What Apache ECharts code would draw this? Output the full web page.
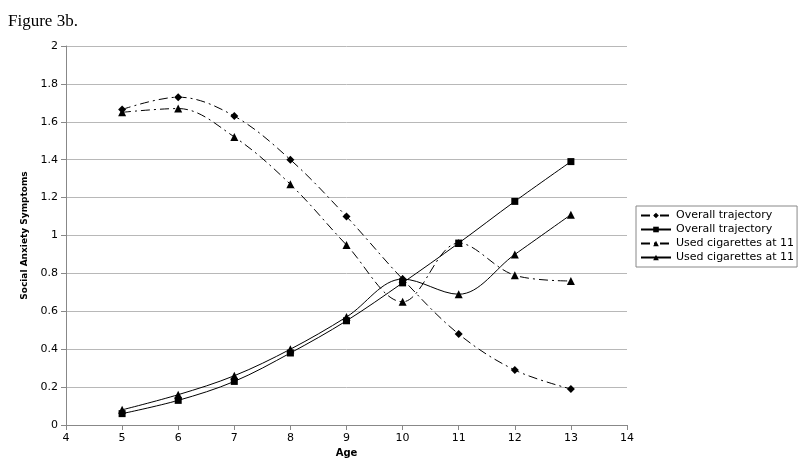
<!DOCTYPE html>
<html lang="en">
<head>
    <meta charset="UTF-8">
    <title>Figure 3b.</title>
    <script src="https://cdn.jsdelivr.net/npm/echarts@6/dist/echarts.min.js"></script>
    <style>
        html, body { margin: 0; padding: 0; background: #fff; }
        #main { width: 800px; height: 467px; }
    </style>
</head>
<body>
<div id="main"></div>
<script type="text/javascript">
    // 数据
    var ages = [5, 6, 7, 8, 9, 10, 11, 12, 13];
    var overallDash = [1.665, 1.73, 1.63, 1.40, 1.10, 0.77, 0.48, 0.29, 0.19];
    var overallSolid = [0.06, 0.13, 0.23, 0.38, 0.55, 0.75, 0.96, 1.18, 1.39];
    var cigDash = [1.65, 1.67, 1.52, 1.27, 0.95, 0.65, 0.96, 0.79, 0.76];
    var cigSolid = [0.08, 0.16, 0.26, 0.40, 0.57, 0.77, 0.69, 0.90, 1.11];
    var names = ['Overall trajectory', 'Overall trajectory ', 'Used cigarettes at 11', 'Used cigarettes at 11 '];

    function pairs(vals) {
        return ages.map(function (a, i) { return [a, vals[i]]; });
    }

    var dashDot = [9, 4, 2, 4];

    function mkSeries(name, vals, symbol, size, dashed) {
        return {
            name: name,
            type: 'line',
            smooth: 0.35,
            data: pairs(vals),
            symbol: symbol,
            symbolSize: size,
            itemStyle: { color: '#000' },
            lineStyle: { color: '#000', width: 1, type: dashed ? dashDot : 'solid' }
        };
    }

    var myChart = echarts.init(document.getElementById('main'));
    var option = {
        animation: false,
        backgroundColor: '#fff',
        title: {
            text: 'Figure 3b.',
            left: 3, top: 8,
            textStyle: { fontFamily: 'Liberation Serif', fontWeight: 'normal', fontSize: 17, color: '#000' }
        },
        grid: { left: 66, right: 173, top: 46, bottom: 42 },
        legend: {
            orient: 'vertical',
            left: 636, top: 206,
            data: names,
            itemWidth: 30, itemHeight: 7, itemGap: 3,
            padding: [4, 3, 4, 4],
            borderColor: '#888', borderWidth: 1,
            formatter: function (n) { return n.trim(); },
            textStyle: { fontFamily: 'DejaVu Sans', fontSize: 11, color: '#000' }
        },
        xAxis: {
            type: 'value', min: 4, max: 14, interval: 1,
            name: 'Age', nameLocation: 'middle', nameGap: 22,
            nameTextStyle: { fontFamily: 'DejaVu Sans', fontWeight: 'bold', fontSize: 10, color: '#000' },
            axisLine: { lineStyle: { color: '#888' } },
            axisTick: { show: true, lineStyle: { color: '#888' } },
            axisLabel: { fontFamily: 'DejaVu Sans', fontSize: 11, color: '#000', margin: 8 },
            splitLine: { show: false }
        },
        yAxis: {
            type: 'value', min: 0, max: 2, interval: 0.2,
            name: 'Social Anxiety Symptoms', nameLocation: 'middle', nameGap: 30,
            nameTextStyle: { fontFamily: 'DejaVu Sans', fontWeight: 'bold', fontSize: 9, color: '#000' },
            axisLine: { show: true, lineStyle: { color: '#888' } },
            axisTick: { show: true, lineStyle: { color: '#888' } },
            axisLabel: {
                fontFamily: 'DejaVu Sans', fontSize: 11, color: '#000', margin: 8,
                formatter: function (v) { return String(Math.round(v * 10) / 10); }
            },
            splitLine: { lineStyle: { color: '#b8b8b8' } }
        },
        series: [
            mkSeries(names[0], overallDash, 'diamond', 8, true),
            mkSeries(names[1], overallSolid, 'rect', 7, false),
            mkSeries(names[2], cigDash, 'triangle', 8, true),
            mkSeries(names[3], cigSolid, 'triangle', 8, false)
        ]
    };
    myChart.setOption(option);
</script>
</body>
</html>
